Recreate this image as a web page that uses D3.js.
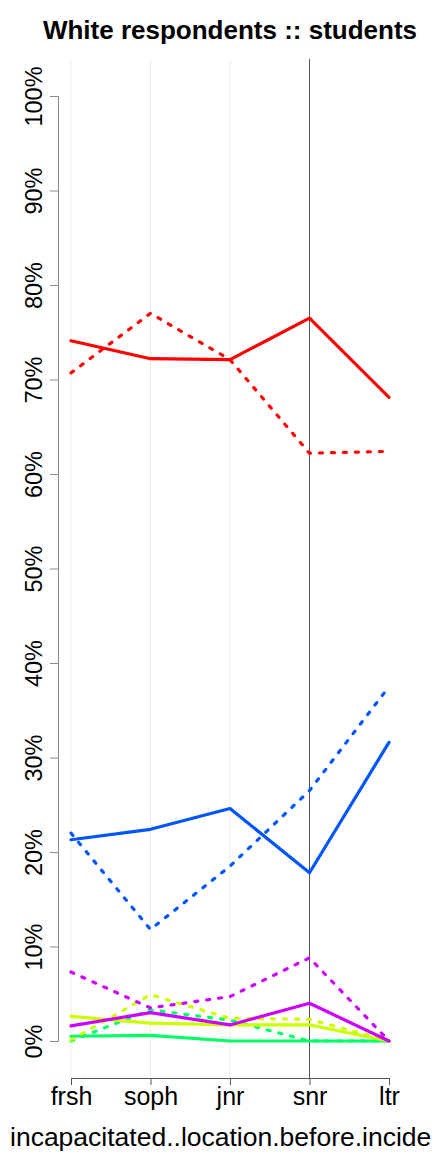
<!DOCTYPE html>
<html>
<head>
<meta charset="utf-8">
<script src="https://cdn.jsdelivr.net/npm/d3@7"></script>
<style>
  body { margin: 0; background: #fff; }
  svg { display: block; font-family: "Liberation Sans", Arial, sans-serif; }
</style>
</head>
<body>
<div id="chart"></div>
<script>
// categories on the x axis
const years = ["frsh", "soph", "jnr", "snr", "ltr"];
const yTicks = [0, 0.1, 0.2, 0.3, 0.4, 0.5, 0.6, 0.7, 0.8, 0.9, 1.0];

// series values (share of respondents), solid and dotted per colour
const redSolid     = [0.741, 0.722, 0.721, 0.765, 0.681];
const redDotted    = [0.707, 0.770, 0.721, 0.622, 0.624];
const blueSolid    = [0.213, 0.224, 0.246, 0.178, 0.316];
const blueDotted   = [0.220, 0.118, 0.185, 0.265, 0.375];
const purpleSolid  = [0.016, 0.030, 0.017, 0.040, 0.000];
const purpleDotted = [0.073, 0.035, 0.047, 0.088, 0.000];
const yellowSolid  = [0.026, 0.019, 0.017, 0.017, 0.000];
const yellowDotted = [0.001, 0.049, 0.024, 0.023, 0.000];
const greenSolid   = [0.005, 0.006, 0.000, 0.000, 0.000];
const greenDotted  = [0.000, 0.033, 0.022, 0.000, 0.000];

const series = [
    { values: greenSolid,   color: "#00ff66", dotted: false },
    { values: greenDotted,  color: "#00ff66", dotted: true },
    { values: yellowSolid,  color: "#ccff00", dotted: false },
    { values: yellowDotted, color: "#ccff00", dotted: true },
    { values: purpleSolid,  color: "#cc00ff", dotted: false },
    { values: purpleDotted, color: "#cc00ff", dotted: true },
    { values: blueSolid,    color: "#0055ff", dotted: false },
    { values: blueDotted,   color: "#0055ff", dotted: true },
    { values: redSolid,     color: "#ff0000", dotted: false },
    { values: redDotted,    color: "#ff0000", dotted: true }
];

const width = 432, height = 1152;

const svg = d3.select("#chart")
    .append("svg")
    .attr("width", width)
    .attr("height", height);

const x = d3.scalePoint()
    .domain(years)
    .range([71, 389]);

const y = d3.scaleLinear()
    .domain([0, 1])
    .range([1041, 96]);

// vertical guides
svg.selectAll("line.guide")
    .data(years.slice(0, 3))
    .enter()
    .append("line")
    .attr("class", "guide")
    .attr("x1", d => x(d)).attr("x2", d => x(d))
    .attr("y1", 59).attr("y2", 1078)
    .style("stroke", "#efefdf")
    .style("stroke-width", 1);

svg.append("line")
    .attr("x1", x("snr")).attr("x2", x("snr"))
    .attr("y1", 59).attr("y2", 1078)
    .style("stroke", "#555")
    .style("stroke-width", 1);

// y axis
const yAxis = svg.append("g")
    .attr("transform", "translate(58,0)")
    .call(d3.axisLeft(y)
        .tickValues(yTicks)
        .tickFormat(d3.format(".0%"))
        .tickSize(8)
        .tickSizeOuter(8));
yAxis.select(".domain").style("stroke", "#888");
yAxis.selectAll(".tick line").style("stroke", "#888");
yAxis.selectAll(".tick text")
    .attr("x", null).attr("dy", null)
    .attr("transform", "translate(-16,0) rotate(-90)")
    .attr("text-anchor", "middle")
    .style("font-size", "23.5px")
    .style("fill", "#000");

// x axis
const xAxis = svg.append("g")
    .attr("transform", "translate(0,1078)")
    .call(d3.axisBottom(x)
        .tickSize(7)
        .tickSizeOuter(7));
xAxis.select(".domain").style("stroke", "#555");
xAxis.selectAll(".tick line").style("stroke", "#555");
xAxis.selectAll(".tick text")
    .attr("y", 27).attr("dy", null)
    .style("font-size", "25px")
    .style("fill", "#000");

// lines
const line = d3.line()
    .x((d, i) => x(years[i]))
    .y(d => y(d));

svg.selectAll("path.series")
    .data(series)
    .enter()
    .append("path")
    .attr("class", "series")
    .attr("d", d => line(d.values))
    .style("fill", "none")
    .style("stroke", d => d.color)
    .style("stroke-width", 3.2)
    .style("stroke-linecap", "round")
    .style("stroke-linejoin", "round")
    .style("stroke-dasharray", d => d.dotted ? "3,9" : null);

// titles
svg.append("text")
    .attr("x", 230).attr("y", 39)
    .attr("text-anchor", "middle")
    .style("font-size", "26px")
    .style("font-weight", "bold")
    .text("White respondents :: students");

svg.append("text")
    .attr("x", 10).attr("y", 1146)
    .style("font-size", "26.5px")
    .text("incapacitated..location.before.incident");
</script>
</body>
</html>
